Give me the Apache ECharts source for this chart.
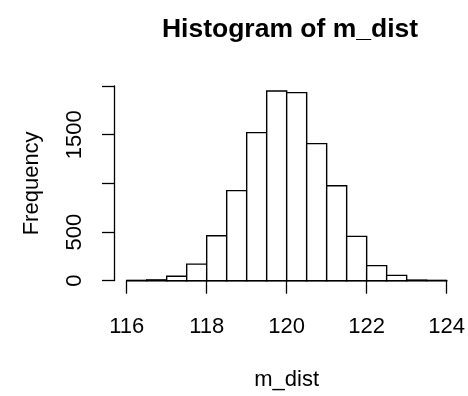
<!DOCTYPE html>
<html>
<head>
<meta charset="utf-8">
<script src="https://cdn.jsdelivr.net/npm/echarts@6/dist/echarts.min.js"></script>
<style>html,body{margin:0;padding:0;background:#fff}#c{width:468px;height:396px}</style>
</head>
<body>
<div id="c"></div>
<script>
var titleText = 'Histogram of m_dist';
var xName = 'm_dist';
var yName = 'Frequency';
var binEdges = [116, 116.5, 117, 117.5, 118, 118.5, 119, 119.5, 120, 120.5, 121, 121.5, 122, 122.5, 123, 123.5, 124];
var counts = [1, 8, 46, 170, 462, 925, 1521, 1949, 1932, 1408, 976, 455, 155, 55, 5, 1];
var xTicks = [116, 118, 120, 122, 124];
var yTicks = [0, 500, 1000, 1500, 2000];
var yLabelsShown = [0, 500, 1500];

var data = counts.map(function (c, i) { return [binEdges[i], binEdges[i + 1], c]; });
var FONT = 'Liberation Sans, Arial, Helvetica, sans-serif';
var chart = echarts.init(document.getElementById('c'), null, {renderer: 'canvas'});
chart.setOption({
  animation: false,
  backgroundColor: '#fff',
  title: {
    text: titleText, left: 285, textAlign: 'center', top: 11,
    textStyle: {fontFamily: FONT, fontWeight: 'bold', fontSize: 26.5, color: '#000'}
  },
  grid: {left: 126.7, right: 18.7, top: 86, bottom: 115.3, containLabel: false},
  xAxis: {
    type: 'value', min: xTicks[0], max: xTicks[xTicks.length - 1], interval: 2,
    offset: 9,
    name: xName, nameLocation: 'middle', nameGap: 79,
    nameTextStyle: {fontFamily: FONT, fontSize: 22, color: '#000'},
    axisLine: {show: true, lineStyle: {color: '#000', width: 1.3}},
    axisTick: {show: true, length: 13, lineStyle: {color: '#000', width: 1.3}},
    axisLabel: {fontFamily: FONT, fontSize: 22, color: '#000', margin: 26},
    splitLine: {show: false}
  },
  yAxis: {
    type: 'value', min: yTicks[0], max: yTicks[yTicks.length - 1], interval: 500,
    offset: 12.7,
    name: yName, nameLocation: 'middle', nameGap: 71, nameRotate: 90,
    nameTextStyle: {fontFamily: FONT, fontSize: 22, color: '#000'},
    axisLine: {show: true, lineStyle: {color: '#000', width: 1.3}},
    axisTick: {show: true, length: 12, lineStyle: {color: '#000', width: 1.3}},
    axisLabel: {
      fontFamily: FONT, fontSize: 22, color: '#000', rotate: 90, margin: 28,
      formatter: function (v) { return yLabelsShown.indexOf(v) >= 0 ? String(v) : ''; }
    },
    splitLine: {show: false}
  },
  series: [{
    type: 'custom',
    data: data,
    encode: {x: [0, 1], y: 2},
    renderItem: function (params, api) {
      var x0 = api.value(0), x1 = api.value(1), c = api.value(2);
      var p0 = api.coord([x0, c]);
      var p1 = api.coord([x1, 0]);
      return {
        type: 'rect',
        shape: {x: p0[0], y: p0[1], width: p1[0] - p0[0], height: p1[1] - p0[1]},
        style: {fill: '#fff', stroke: '#000', lineWidth: 1.4}
      };
    }
  }]
});
</script>
</body>
</html>
